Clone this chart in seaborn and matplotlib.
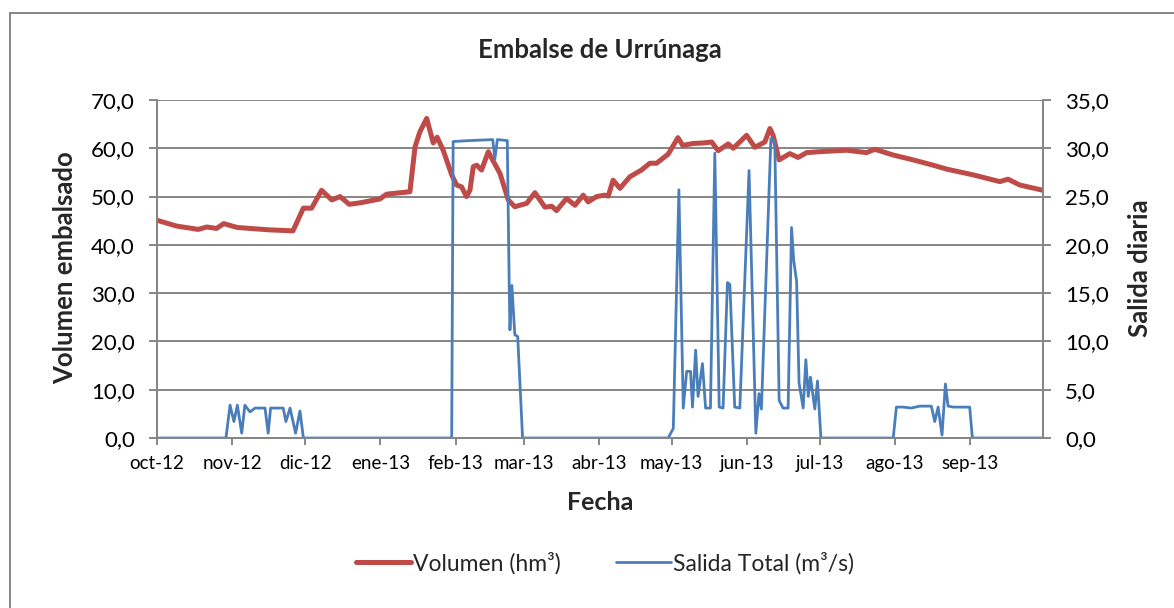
import pandas as pd
import matplotlib.pyplot as plt
from matplotlib.lines import Line2D
import seaborn as sns

# days counted from 1 Oct 2012
start = pd.Timestamp("2012-10-01")

vol_day = [0, 8, 17, 20.5, 24.5, 27.5, 33, 41, 46.5, 56, 60.3, 63.7, 67.8, 72, 75.4,
           79.2, 83.6, 91.8, 94.6, 104.2, 106.3, 108.3, 111.1, 113.8, 115.4, 117.9,
           121.4, 123.4, 125.5, 127.5, 128.9, 130.3, 131.7, 133.7, 136.5, 137.9, 141.3,
           144.7, 147.4, 152.3, 155.7, 159.8, 162.6, 164.6, 168.7, 172.2, 175.6, 177.6,
           181.1, 184.5, 185.9, 187.9, 190.7, 194.8, 199.6, 203, 205.8, 210.6, 214.6,
           216.6, 220.9, 225, 228.5, 231.2, 235.3, 237.4, 242.9, 246.3, 250.4, 252.5,
           253.8, 256.3, 260.7, 264.1, 267.6, 273.1, 284.1, 292.3, 295.7, 303.3, 311.5,
           319.7, 325.2, 336.2, 347.2, 350.6, 355.4, 365]
volumen = [45.1, 43.9, 43.2, 43.7, 43.4, 44.4, 43.6, 43.3, 43.1, 42.9, 47.6, 47.6, 51.3,
           49.3, 50.0, 48.4, 48.7, 49.5, 50.5, 51.0, 60.3, 63.4, 66.2, 61.1, 62.3, 59.6,
           54.5, 52.4, 52.0, 50.0, 51.3, 56.2, 56.5, 55.5, 59.3, 57.9, 54.8, 49.3, 47.9,
           48.6, 50.8, 47.8, 48.0, 47.1, 49.6, 48.2, 50.3, 48.9, 50.0, 50.3, 50.1, 53.4,
           51.7, 54.1, 55.5, 56.9, 56.9, 58.8, 62.2, 60.6, 61.0, 61.1, 61.3, 59.5, 60.9,
           60.0, 62.7, 60.2, 61.3, 64.1, 62.7, 57.6, 58.9, 58.1, 59.1, 59.3, 59.6, 59.1,
           59.8, 58.6, 57.6, 56.5, 55.7, 54.5, 53.1, 53.6, 52.4, 51.3]

sal_day = [0, 28.4, 30.1, 31.7, 33.1, 34.9, 36.2, 38.3, 40.4, 44.5, 45.8, 46.8, 52, 53.1,
           54.8, 57.1, 58.9, 60.3, 121.4, 122, 128.9, 138.3, 139.2, 140.2, 144.3, 145.1,
           145.4, 146.2, 147.4, 148.6, 150.6, 210.6, 212.7, 215, 216.8, 218.2, 219.8,
           220.6, 221.9, 222.9, 224.7, 226, 228, 229.8, 231.6, 233.2, 235, 236, 238,
           240.1, 243.9, 246.7, 248, 249, 252.9, 254.5, 256.3, 257.9, 260, 261.4, 262.3,
           263.5, 264.5, 266.2, 267.3, 268.3, 269.2, 271, 272.1, 273.5, 303.3, 304.6,
           307.4, 310.8, 314.2, 319, 320.4, 321.8, 323.4, 324.8, 325.9, 328, 334.8,
           335.9, 365]
salida = [0, 0, 3.4, 1.7, 3.4, 0.5, 3.4, 2.7, 3.1, 3.1, 0.5, 3.1, 3.1, 1.7, 3.1, 0.5,
          2.8, 0, 0, 30.7, 30.8, 30.9, 28.9, 30.9, 30.8, 15.7, 11.2, 15.8, 10.7, 10.5, 0,
          0, 1.0, 25.7, 3.1, 6.9, 6.9, 3.2, 9.1, 4.3, 7.7, 3.1, 3.1, 29.5, 3.2, 3.1, 16.1,
          15.9, 3.2, 3.1, 27.7, 0.5, 4.6, 3.0, 31.0, 30.7, 3.9, 3.1, 3.1, 21.8, 18.4, 16.2,
          5.7, 3.1, 8.1, 4.3, 6.3, 3.0, 5.9, 0, 0, 3.2, 3.2, 3.1, 3.3, 3.3, 1.7, 3.2, 0.3,
          5.6, 3.3, 3.2, 3.2, 0, 0]

meses = ["oct-12", "nov-12", "dic-12", "ene-13", "feb-13", "mar-13", "abr-13",
         "may-13", "jun-13", "jul-13", "ago-13", "sep-13"]

sns.set_style("white")
plt.rcParams['font.family'] = ['Lato', 'DejaVu Sans']

gris = '#868686'
rojo = '#BE4B48'
azul = '#4A7EBB'

df_vol = pd.DataFrame({'fecha': start + pd.to_timedelta(vol_day, unit='D'), 'v': volumen})
df_sal = pd.DataFrame({'fecha': start + pd.to_timedelta(sal_day, unit='D'), 's': salida})

fig = plt.figure(figsize=(11.74, 6.08), dpi=100)
ax = fig.add_axes([157 / 1174, 1 - 438 / 608, 886 / 1174, 338 / 608])
ax2 = ax.twinx()

sns.lineplot(data=df_vol, x='fecha', y='v', ax=ax, color=rojo, linewidth=3.6)
sns.lineplot(data=df_sal, x='fecha', y='s', ax=ax2, color=azul, linewidth=2.0)

ax.set_xlim(start, pd.Timestamp("2013-10-01"))
ax.set_ylim(0, 70)
ax2.set_ylim(0, 35)
ax.set_yticks(range(0, 71, 10))
ax2.set_yticks(range(0, 36, 5))
ax.set_yticklabels([f"{v:.1f}".replace('.', ',') for v in range(0, 71, 10)], fontsize=16)
ax2.set_yticklabels([f"{v:.1f}".replace('.', ',') for v in range(0, 36, 5)], fontsize=16)

ticks = pd.date_range("2012-10-01", periods=12, freq="MS")
ax.set_xticks(ticks)
ax.set_xticklabels(meses, fontsize=13.5)

ax.grid(axis='y', color=gris, linewidth=1.4)
ax.set_axisbelow(True)
for a in (ax, ax2):
    a.spines['top'].set_visible(False)
    for s in ('left', 'right', 'bottom'):
        a.spines[s].set_color(gris)
        a.spines[s].set_linewidth(1.4)
    a.tick_params(axis='both', colors=gris, labelcolor='black', width=1.4)
ax.tick_params(axis='y', length=6, pad=10, left=True)
ax2.tick_params(axis='y', length=6, pad=10, right=True)
ax.tick_params(axis='x', length=5, pad=7, bottom=True)

ax.set_xlabel("Fecha", fontsize=18, fontweight='bold')
ax.xaxis.set_label_coords(0.5, -65 / 338)
ax.xaxis.label.set_va('center')
ax.set_ylabel("Volumen embalsado", fontsize=18.5, fontweight='bold')
ax.yaxis.set_label_coords(-92 / 886, 0.503)
ax.yaxis.label.set_va('center')
ax2.set_ylabel("Salida diaria", fontsize=18.5, fontweight='bold')
ax2.yaxis.set_label_coords(983 / 886, 0.503)
ax2.yaxis.label.set_va('center')

fig.text(600 / 1174, 1 - 50 / 608, "Embalse de Urrúnaga", fontsize=18.5,
         fontweight='bold', ha='center', va='center')

handles = [Line2D([], [], color=rojo, linewidth=3.6), Line2D([], [], color=azul, linewidth=2.0)]
fig.legend(handles, ["Volumen (hm³)", "Salida Total (m³/s)"], loc='center',
           bbox_to_anchor=(605 / 1174, 1 - 563 / 608), ncol=2, frameon=False,
           fontsize=16.5, handlelength=2.4, handletextpad=0.1, columnspacing=2.4)

# outer chart border
fig.add_artist(Line2D([10 / 1174, 1], [1 - 13 / 608, 1 - 13 / 608], color=gris, linewidth=1.4))
fig.add_artist(Line2D([10 / 1174, 10 / 1174], [0, 1 - 13 / 608], color=gris, linewidth=1.4))

fig.savefig("out.png", dpi=100)
